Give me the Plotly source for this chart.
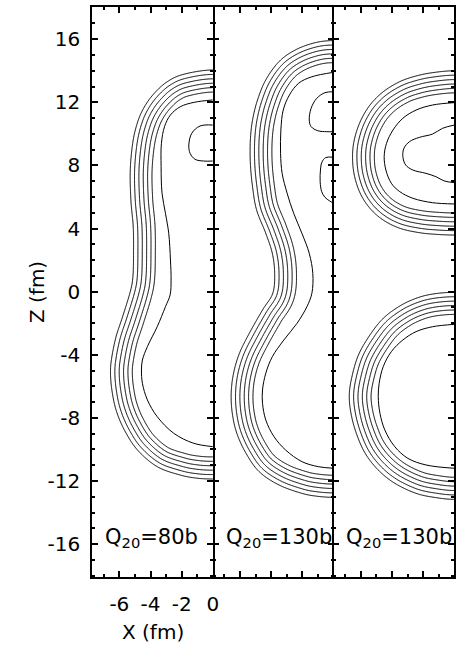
import numpy as np
import plotly.graph_objects as go

# ---------------- data (fm) ----------------
# outermost density contour of each shape (left half, from top to bottom, ends on x=0)
P1_OUTER_X = [0, -1.86, -2.92, -3.76, -4.39, -4.82, -5.13, -5.3, -5.26, -5.11, -5.09, -5.13, -5.3,
              -5.79, -6.21, -6.48, -6.57, -6.48, -6.21, -5.68, -4.84, -3.57, -2.09, -1.0, 0]
P1_OUTER_Z = [14.05, 13.78, 13.31, 12.57, 11.72, 10.77, 9.5, 7.71, 5.81, 4.12, 2.43, 0.95, 0.0,
              -1.58, -2.85, -4.12, -5.07, -6.23, -7.5, -8.76, -10.03, -11.09, -11.62, -11.82, -11.87]

P2_OUTER_X = [0, -1.18, -2.45, -3.5, -4.35, -4.88, -5.2, -5.34, -5.34, -5.2, -4.94, -4.35, -3.93,
              -3.78, -3.9, -4.56, -5.41, -6.04, -6.42, -6.57, -6.5, -6.21, -5.62, -4.77, -3.5,
              -2.03, -1.0, 0]
P2_OUTER_Z = [15.91, 15.78, 15.32, 14.58, 13.42, 12.15, 10.88, 9.61, 8.14, 6.65, 5.18, 3.7, 2.43,
              1.16, -0.1, -1.16, -2.64, -3.9, -5.17, -6.44, -7.71, -8.97, -10.24, -11.41, -12.25,
              -12.78, -12.97, -13.03]

P3_UPPER_X = [0, -1.39, -2.45, -3.5, -4.56, -5.41, -6.04, -6.42, -6.53, -6.42, -6.04, -5.41, -4.56,
              -3.5, -2.24, -1.1, 0]
P3_UPPER_Z = [14.0, 13.88, 13.67, 13.31, 12.67, 11.83, 10.77, 9.61, 8.56, 7.4, 6.24, 5.28, 4.54,
              4.02, 3.74, 3.63, 3.59]
P3_LOWER_X = [0, -1.39, -2.45, -3.5, -4.56, -5.41, -6.15, -6.57, -6.74, -6.63, -6.29, -5.72, -4.88,
              -3.82, -2.45, -1.18, 0]
P3_LOWER_Z = [-0.04, -0.15, -0.42, -0.91, -1.69, -2.74, -4.01, -5.39, -6.55, -7.71, -8.97, -10.24,
              -11.3, -12.14, -12.78, -13.05, -13.16]

# spacing between the six outer, nearly parallel contours (fm)
CONTOUR_STEP = 0.28
N_PARALLEL = 6

# innermost (7th) contour of each shape
P1_INNER_X = [0, -1.2, -2.09, -2.72, -3.1, -3.3, -3.32, -3.26, -3.04, -2.83, -2.72, -2.68, -2.74,
              -3.04, -3.57, -4.2, -4.52, -4.58, -4.52, -4.2, -3.57, -2.51, -1.25, 0]
P1_INNER_Z = [12.15, 12.0, 11.72, 11.2, 10.46, 9.4, 7.92, 6.24, 4.97, 3.7, 2.01, 0.74, -0.2,
              -0.95, -2.22, -3.48, -4.33, -4.96, -5.8, -6.86, -7.92, -8.97, -9.6, -9.82]
P2_INNER_X = [0, -1.39, -2.24, -2.83, -3.23, -3.38, -3.4, -3.3, -2.98, -2.56, -2.03, -1.56, -1.33,
              -1.39, -1.71, -2.34, -3.19, -3.93, -4.35, -4.56, -4.56, -4.35, -3.82, -3.08, -2.03,
              -0.97, 0]
P2_INNER_Z = [13.9, 13.62, 13.21, 12.47, 11.51, 10.25, 8.77, 7.5, 6.24, 4.97, 3.7, 2.43, 1.16,
              -0.1, -0.95, -2.0, -3.06, -4.12, -5.17, -6.23, -7.07, -8.13, -9.19, -10.03, -10.77,
              -11.09, -11.19]
P3_UPPER_INNER_X = [0, -1.39, -2.45, -3.3, -3.93, -4.35, -4.5, -4.39, -4.04, -3.5, -2.66, -1.39, 0]
P3_UPPER_INNER_Z = [11.98, 11.83, 11.51, 10.99, 10.25, 9.4, 8.56, 7.71, 6.87, 6.34, 5.92, 5.64, 5.56]
P3_LOWER_INNER_X = [0, -1.39, -2.45, -3.3, -4.04, -4.56, -4.82, -4.88, -4.77, -4.46, -3.82, -2.98,
                    -1.82, 0]
P3_LOWER_INNER_Z = [-2.07, -2.22, -2.53, -3.06, -3.8, -4.75, -5.8, -6.65, -7.71, -8.76, -9.82,
                    -10.56, -10.98, -11.19]

# high-density islands
P1_CORE_X = [0, -0.82, -1.35, -1.54, -1.46, -1.14, -0.61, 0]
P1_CORE_Z = [10.56, 10.5, 10.04, 9.3, 8.77, 8.39, 8.28, 8.28]
P2_CORE_A_X = [0, -0.55, -1.08, -1.44, -1.56, -1.44, -1.01, -0.44, 0]
P2_CORE_A_Z = [12.67, 12.61, 12.25, 11.62, 10.88, 10.46, 10.2, 10.14, 10.14]
P2_CORE_B_X = [0, -0.5, -0.75, -0.84, -0.86, -0.76, -0.55, -0.25, 0]
P2_CORE_B_Z = [8.52, 8.5, 8.2, 7.71, 6.97, 6.34, 5.98, 5.75, 5.6]
P3_CORE_X = [0, -0.76, -1.39, -2.24, -2.87, -3.23, -3.3, -3.12, -2.66, -1.82, -1.18, -0.65, 0]
P3_CORE_Z = [10.56, 10.35, 9.99, 9.78, 9.51, 9.09, 8.56, 8.03, 7.71, 7.5, 7.29, 7.02, 6.91]

PANEL_LABELS = ["Q<sub>20</sub>=80b", "Q<sub>20</sub>=130b", "Q<sub>20</sub>=130b"]
X_TICKVALS = [-6, -4, -2, 0]
X_TICKTEXT = ["-6", "-4", "-2", "0"]
Z_TICKVALS = [16, 12, 8, 4, 0, -4, -8, -12, -16]
Z_TICKTEXT = ["16", "12", "8", "4", "0", "-4", "-8", "-12", "-16"]
X_RANGE = [-7.75, 0]
Z_RANGE = [-18.1, 18.06]


# ---------------- geometry helpers ----------------
def closed_loop(xl, zl, n=12):
    """mirror the half outline about x=0 and smooth it (Catmull-Rom)"""
    xl = np.asarray(xl, float)
    zl = np.asarray(zl, float)
    x = np.concatenate([xl, -xl[-2:0:-1]])
    z = np.concatenate([zl, zl[-2:0:-1]])
    P = np.column_stack([x, z])
    N = len(P)
    t = np.linspace(0, 1, n, endpoint=False)[:, None]
    t2, t3 = t * t, t * t * t
    out = []
    for i in range(N):
        p0, p1, p2, p3 = P[i - 1], P[i], P[(i + 1) % N], P[(i + 2) % N]
        out.append(0.5 * (2 * p1 + (-p0 + p2) * t + (2 * p0 - 5 * p1 + 4 * p2 - p3) * t2
                          + (-p0 + 3 * p1 - 3 * p2 + p3) * t3))
    return np.vstack(out)


def signed_distance(loop, X, Z):
    ax, az = loop[:, 0], loop[:, 1]
    bx, bz = np.roll(ax, -1), np.roll(az, -1)
    d2 = np.full(X.shape, np.inf)
    inside = np.zeros(X.shape, bool)
    for i in range(len(ax)):
        ex, ez = bx[i] - ax[i], bz[i] - az[i]
        L2 = ex * ex + ez * ez
        if L2 == 0:
            continue
        t = np.clip(((X - ax[i]) * ex + (Z - az[i]) * ez) / L2, 0, 1)
        dx = X - ax[i] - t * ex
        dz = Z - az[i] - t * ez
        d2 = np.minimum(d2, dx * dx + dz * dz)
        if ez != 0:
            cond = (az[i] > Z) != (bz[i] > Z)
            xint = ax[i] + (Z - az[i]) * ex / ez
            inside ^= cond & (X < xint)
    d = np.sqrt(d2)
    return np.where(inside, d, -d)


gx = np.arange(-8.0, 0.31, 0.05)
gz = np.arange(-18.5, 18.51, 0.05)
GX, GZ = np.meshgrid(gx, gz)

fields = [
    signed_distance(closed_loop(P1_OUTER_X, P1_OUTER_Z), GX, GZ),
    signed_distance(closed_loop(P2_OUTER_X, P2_OUTER_Z), GX, GZ),
    np.maximum(signed_distance(closed_loop(P3_UPPER_X, P3_UPPER_Z), GX, GZ),
               signed_distance(closed_loop(P3_LOWER_X, P3_LOWER_Z), GX, GZ)),
]

single_lines = [
    [(P1_INNER_X, P1_INNER_Z), (P1_CORE_X, P1_CORE_Z)],
    [(P2_INNER_X, P2_INNER_Z), (P2_CORE_A_X, P2_CORE_A_Z), (P2_CORE_B_X, P2_CORE_B_Z)],
    [(P3_UPPER_INNER_X, P3_UPPER_INNER_Z), (P3_LOWER_INNER_X, P3_LOWER_INNER_Z),
     (P3_CORE_X, P3_CORE_Z)],
]

# ---------------- figure ----------------
W, H = 465, 645
LEFT, PW = 93.3, 122.3
TOP, BOTTOM = 6.7, 577.3
FONT = "DejaVu Sans"

fig = go.Figure()
for i in range(3):
    sx = "" if i == 0 else str(i + 1)
    fld = np.clip(np.round(fields[i], 3), -1.0, 2.5)
    fig.add_trace(go.Contour(
        x=np.round(gx, 3), y=np.round(gz, 3), z=fld,
        xaxis="x" + sx, yaxis="y" + sx,
        contours=dict(start=0, end=CONTOUR_STEP * (N_PARALLEL - 1) + 0.01, size=CONTOUR_STEP,
                      coloring="lines", showlabels=False),
        colorscale=[[0, "black"], [1, "black"]],
        line=dict(width=1, smoothing=1.0),
        showscale=False, hoverinfo="skip"))
    for (lx, lz) in single_lines[i]:
        fig.add_trace(go.Scatter(
            x=lx, y=lz, mode="lines", xaxis="x" + sx, yaxis="y" + sx,
            line=dict(color="black", width=1, shape="spline", smoothing=1.0),
            hoverinfo="skip", showlegend=False))

axis_common = dict(linecolor="black", linewidth=1.8,
                   ticks="inside", ticklen=6, tickwidth=1.5, tickcolor="black",
                   showgrid=False, zeroline=False,
                   tickfont=dict(family=FONT, size=20, color="black"))
minor_common = dict(tickmode="linear", tick0=0, dtick=1, ticks="inside", ticklen=3,
                    tickwidth=1.5, tickcolor="black", showgrid=False)
layout = dict(width=W, height=H, margin=dict(l=0, r=0, t=0, b=0), autosize=False,
              paper_bgcolor="white", plot_bgcolor="white", showlegend=False)
ydom = [(H - BOTTOM) / H, (H - TOP) / H]
for i in range(3):
    sx = "" if i == 0 else str(i + 1)
    xd = [(LEFT + i * PW) / W, (LEFT + (i + 1) * PW) / W]
    layout["xaxis" + sx] = dict(
        axis_common, domain=xd, range=X_RANGE, anchor="y" + sx,
        showline=True, mirror="allticks",
        tickmode="array", tickvals=X_TICKVALS, ticktext=X_TICKTEXT,
        showticklabels=(i == 0), ticklabelstandoff=8, minor=minor_common)
    layout["yaxis" + sx] = dict(
        axis_common, domain=ydom, range=Z_RANGE, anchor="x" + sx,
        showline=(i != 1), mirror="allticks",
        tickmode="array", tickvals=Z_TICKVALS, ticktext=Z_TICKTEXT,
        showticklabels=(i == 0), ticklabelstandoff=6, minor=minor_common)
    if i > 0:
        layout["yaxis" + sx]["matches"] = "y"

annotations = []
for i in range(3):
    annotations.append(dict(
        text=PANEL_LABELS[i], xref="paper", yref="paper",
        x=(LEFT + i * PW + 11) / W, y=1 - 538 / H, xanchor="left", yanchor="middle",
        showarrow=False, font=dict(family=FONT, size=21, color="black")))
annotations.append(dict(text="X (fm)", xref="paper", yref="paper", x=154.7 / W, y=1 - 632 / H,
                        xanchor="center", yanchor="middle", showarrow=False,
                        font=dict(family=FONT, size=20, color="black")))
annotations.append(dict(text="Z (fm)", xref="paper", yref="paper", x=37.5 / W, y=1 - 292 / H,
                        xanchor="center", yanchor="middle", textangle=-90, showarrow=False,
                        font=dict(family=FONT, size=20, color="black")))
layout["annotations"] = annotations

fig.update_layout(**layout)
fig.write_html("out.html", config={"displayModeBar": False},
               post_script="document.body.style.margin='0';document.body.style.overflow='hidden';")
